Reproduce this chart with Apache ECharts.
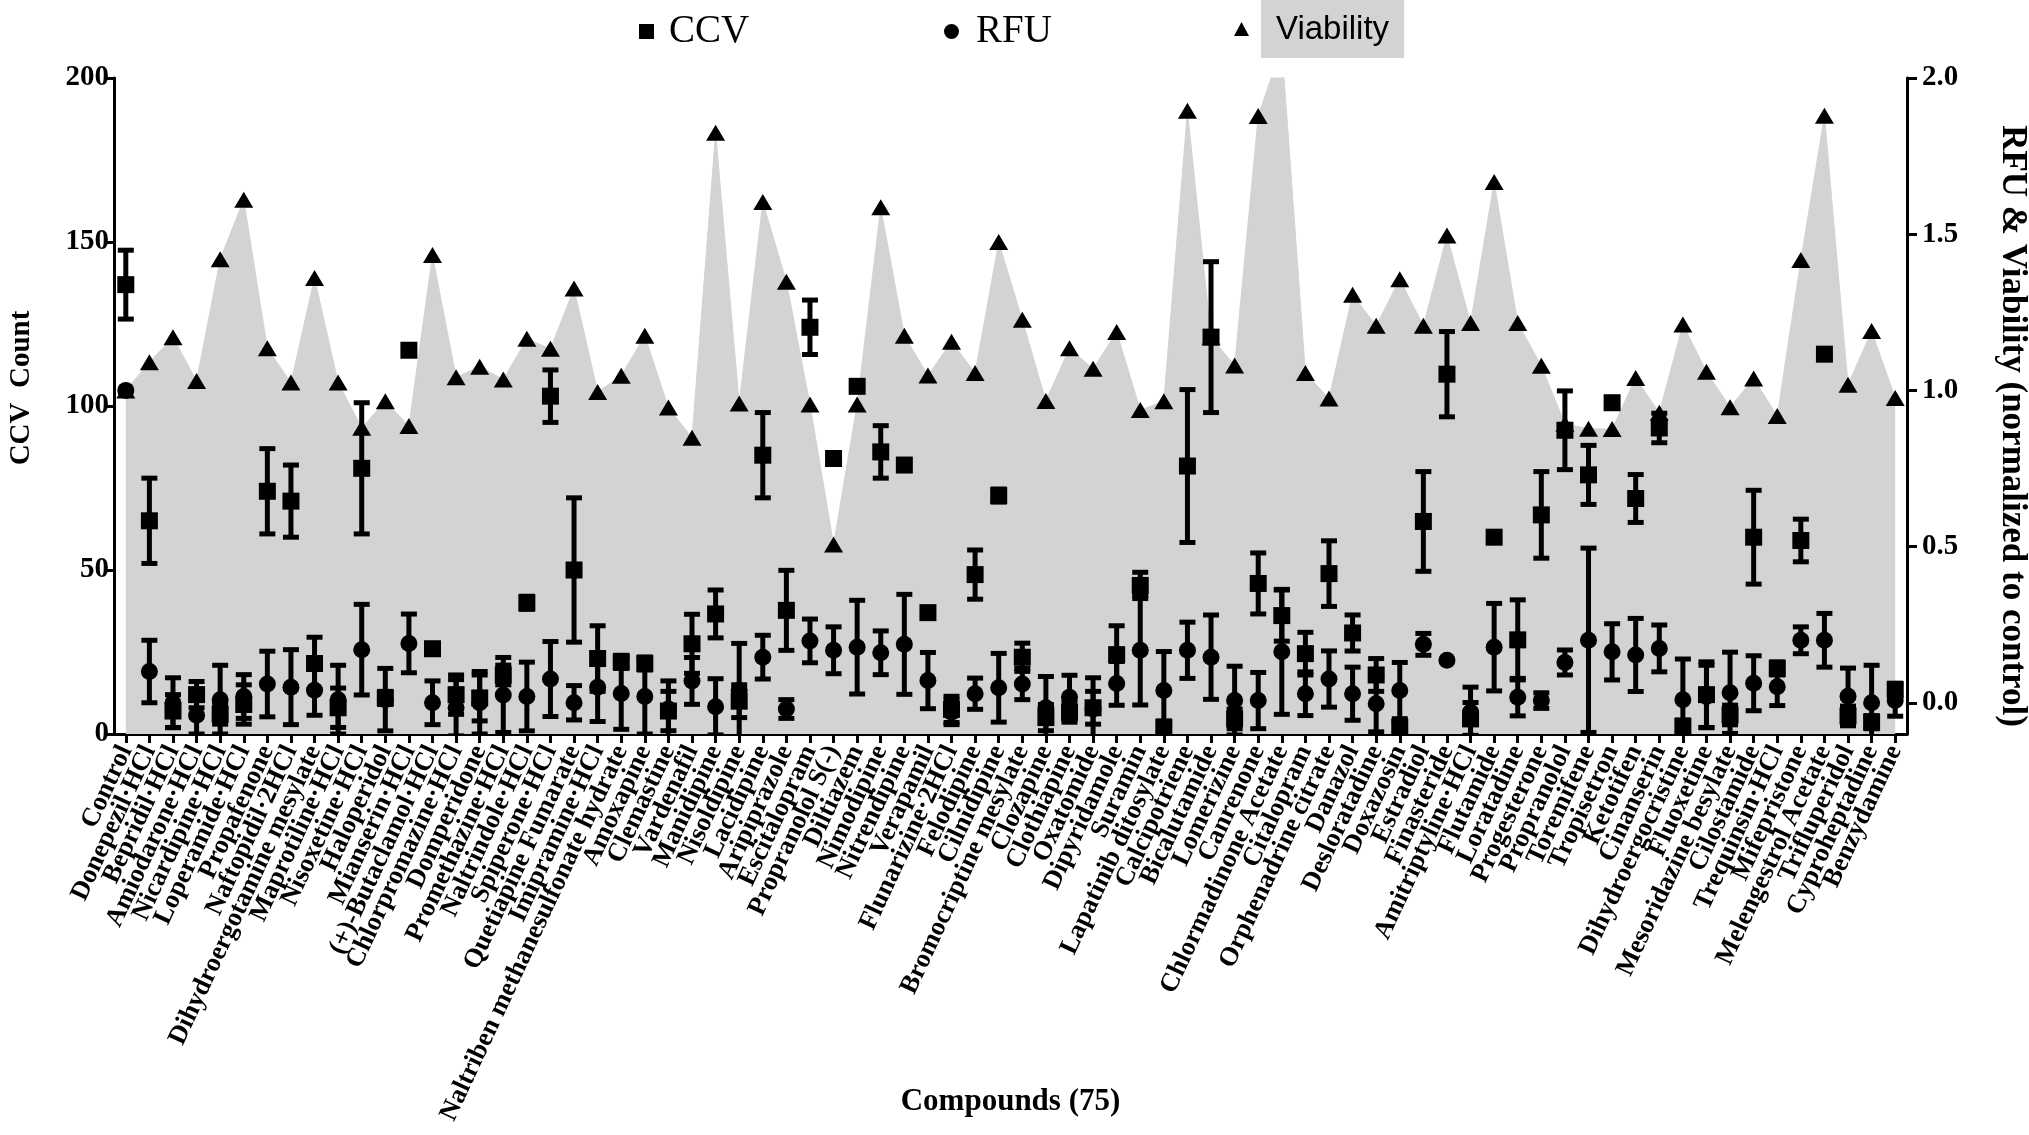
<!DOCTYPE html>
<html>
<head>
<meta charset="utf-8">
<script src="https://cdn.jsdelivr.net/npm/echarts@6/dist/echarts.min.js"></script>
<style>
html,body{margin:0;padding:0;background:#fff;}
#chart{width:2029px;height:1135px;}
</style>
</head>
<body>
<div id="chart"></div>
<script>
const categories = ["Control","Donepezil·HCl","Bepridil·HCl","Amiodarone·HCl","Nicardipine·HCl","Loperamide·HCl","Propafenone","Naftopidil·2HCl","Dihydroergotamine mesylate","Maprotiline·HCl","Nisoxetine·HCl","Haloperidol","Mianserin·HCl","(+)-Butaclamol·HCl","Chlorpromazine·HCl","Domperidone","Promethazine·HCl","Naltrindole·HCl","Spiperone·HCl","Quetiapine Fumarate","Imipramine·HCl","Naltriben methanesulfonate hydrate","Amoxapine","Clemastine","Vardenafil","Manidipine","Nisoldipine","Lacidipine","Aripiprazole","Escitalopram","Propranolol S(-)","Diltiazem","Nimodipine","Nitrendipine","Verapamil","Flunarizine·2HCl","Felodipine","Cilnidipine","Bromocriptine mesylate","Clozapine","Clothiapine","Oxatomide","Dipyridamole","Suramin","Lapatinib ditosylate","Calcipotriene","Bicalutamide","Lomerizine","Canrenone","Chlormadinone Acetate","Citalopram","Orphenadrine citrate","Danazol","Desloratadine","Doxazosin","Estradiol","Finasteride","Amitriptyline·HCl","Flutamide","Loratadine","Progesterone","Propranolol","Toremifene","Tropisetron","Ketotifen","Cinanserin","Dihydroergocristine","Fluoxetine","Mesoridazine besylate","Cilostamide","Trequinsin·HCl","Mifepristone","Melengestrol Acetate","Trifluperidol","Cyproheptadine","Benzydamine"];

const viability = [1.00,1.09,1.17,1.03,1.42,1.61,1.135,1.025,1.36,1.025,0.88,0.965,0.886,1.433,1.042,1.076,1.035,1.165,1.133,1.326,0.995,1.047,1.175,0.945,0.848,1.825,0.958,1.603,1.348,0.955,0.507,0.955,1.586,1.175,1.048,1.156,1.056,1.475,1.226,0.966,1.135,1.069,1.187,0.937,0.965,1.895,1.17,1.08,1.878,2.1,1.056,0.974,1.306,1.207,1.356,1.207,1.496,1.216,1.667,1.216,1.079,0.893,0.877,0.876,1.04,0.928,1.211,1.06,0.946,1.038,0.918,1.417,1.879,1.018,1.19,0.976];

const ccv = [137,65,7,12,6,9,74,71,21.5,8,81,11,117,26,12,11,18,40,103,50,23,22,21.5,7,27.5,36.6,10,85,37.7,124,84,106,86,82,37,7.5,48.6,72.7,23.4,5,6.6,8,24.2,45.3,2,81.7,121,4.6,45.9,36.1,24.5,48.9,30.8,18,2,64.8,109.7,4.6,60,28.7,66.8,92.6,79,101,71.8,93.3,2.3,12,5.8,60,20,59,115.8,5.5,3.6,13.5];
const ccvSD = [10.5,13,5,4,3,6,13,11,8,6,20,2,0,0,6,7,3,2,8,22,10,2,2,6,9,7.3,5,13,12.2,8.3,0,0,8,0,0,4,7.5,2,4.3,4,3,5,8.8,4,2,23.3,23,3,9.3,7.8,6.5,10,5.5,5,2,15.2,13,5,0,12.2,13.2,12,9,0,7.3,4.5,2,10,3,14.3,2,6.5,0,3,2,2];

const rfu = [1.0,0.10,0.0,-0.04,0.01,0.02,0.06,0.05,0.04,0.01,0.17,0.01,0.19,0.0,-0.016,0.0,0.025,0.02,0.076,0.0,0.05,0.03,0.02,-0.02,0.07,-0.013,0.04,0.146,-0.02,0.198,0.168,0.178,0.16,0.187,0.071,-0.03,0.029,0.048,0.06,-0.016,0.018,-0.02,0.062,0.168,0.039,0.168,0.146,0.007,0.007,0.163,0.029,0.076,0.029,-0.003,0.039,0.187,0.136,-0.03,0.178,0.018,0.007,0.129,0.2,0.163,0.153,0.174,0.01,0.02,0.032,0.0625,0.051,0.2,0.2,0.021,0.0,0.007];
const rfuSD = [0,0.10,0.08,0.06,0.11,0.07,0.105,0.12,0.08,0.11,0.145,0.1,0.094,0.07,0.09,0.1,0.12,0.11,0.12,0.055,0.11,0.115,0.12,0.09,0.075,0.09,0.15,0.07,0.03,0.07,0.075,0.15,0.07,0.16,0.09,0.04,0.05,0.11,0.05,0.1,0.07,0.1,0.07,0.175,0.125,0.09,0.135,0.11,0.09,0.2,0.07,0.09,0.085,0.09,0.09,0.035,0,0.08,0.14,0.06,0.025,0.04,0.295,0.09,0.117,0.075,0.13,0.1,0.13,0.088,0.06,0.043,0.086,0.09,0.12,0.05];

const leftTicks = [0,50,100,150,200];
const rightTicks = [0,0.5,1,1.5,2];

const SERIF = "'Liberation Serif','Times New Roman',serif";
const SANS = "'Liberation Sans',Arial,sans-serif";

function errRender(params, api) {
  const x = api.value(0), v = api.value(1), e = api.value(2);
  if (!e) return null;
  const top = api.coord([x, v + e]);
  const bot = api.coord([x, v - e]);
  const hw = 8;
  const style = {stroke: '#000', lineWidth: 5};
  return {type: 'group', children: [
    {type: 'line', shape: {x1: top[0], y1: top[1], x2: bot[0], y2: bot[1]}, style: style},
    {type: 'line', shape: {x1: top[0] - hw, y1: top[1], x2: top[0] + hw, y2: top[1]}, style: style},
    {type: 'line', shape: {x1: bot[0] - hw, y1: bot[1], x2: bot[0] + hw, y2: bot[1]}, style: style}
  ]};
}

const chart = echarts.init(document.getElementById('chart'), null, {renderer: 'canvas'});
const axisLineStyle = {color: '#000', width: 3};

chart.setOption({
  animation: false,
  backgroundColor: '#fff',
  grid: {left: 114, right: 122, top: 78, bottom: 401, containLabel: false, outerBoundsMode: 'none'},
  legend: [
    {data: [{name: 'CCV', icon: 'rect'}], left: 639, top: 12, padding: 0, itemWidth: 15, itemHeight: 15,
     textStyle: {fontFamily: SERIF, fontSize: 39, color: '#000', padding: [0, 0, 0, 10]}},
    {data: [{name: 'RFU', icon: 'circle'}], left: 944, top: 12, padding: 0, itemWidth: 15, itemHeight: 15,
     textStyle: {fontFamily: SERIF, fontSize: 39, color: '#000', padding: [0, 0, 0, 12]}},
    {data: [{name: 'Viability', icon: 'triangle'}], left: 1234, top: 0, padding: 0, itemWidth: 15, itemHeight: 14,
     formatter: function (name) { return '{g|}{b|' + name + '}'; },
     textStyle: {fontFamily: SANS, fontSize: 33, color: '#000',
       rich: {g: {width: 7}, b: {fontFamily: SANS, fontSize: 33, color: '#000', backgroundColor: '#d3d3d3', padding: [13, 15, 12, 15]}}}}
  ],
  xAxis: {
    type: 'category',
    data: categories,
    boundaryGap: true,
    axisLine: {lineStyle: axisLineStyle, onZero: false},
    axisTick: {show: true, alignWithLabel: true, interval: 0, length: 9, lineStyle: {color: '#000', width: 3}},
    axisLabel: {interval: 0, rotate: 65, fontFamily: SERIF, fontWeight: 'bold', fontSize: 26.5, color: '#000', margin: 13},
    name: 'Compounds (75)',
    nameLocation: 'middle',
    nameGap: 352,
    nameMoveOverlap: false,
    nameTextStyle: {fontFamily: SERIF, fontWeight: 'bold', fontSize: 31, color: '#000'},
    splitLine: {show: false}
  },
  yAxis: [
    {
      type: 'value', min: 0, max: 200, interval: 50, position: 'left',
      axisLine: {show: true, lineStyle: axisLineStyle},
      axisTick: {show: true, length: 10, lineStyle: {color: '#000', width: 3}, customValues: leftTicks},
      axisLabel: {fontFamily: SERIF, fontWeight: 'bold', fontSize: 29, color: '#000', margin: 5, customValues: leftTicks},
      splitLine: {show: false},
      name: 'CCV  Count', nameLocation: 'middle', nameGap: 78, nameMoveOverlap: false,
      nameTextStyle: {fontFamily: SERIF, fontWeight: 'bold', fontSize: 29, color: '#000', padding: [0, 0, 0, 36]}
    },
    {
      type: 'value', min: -0.1, max: 2.0, position: 'right',
      axisLine: {show: true, lineStyle: axisLineStyle},
      axisTick: {show: true, length: 10, lineStyle: {color: '#000', width: 3}, customValues: rightTicks},
      axisLabel: {fontFamily: SERIF, fontWeight: 'bold', fontSize: 29, color: '#000', margin: 15,
                  customValues: rightTicks, formatter: function (v) { return Number(v).toFixed(1); }},
      splitLine: {show: false},
      name: 'RFU & Viability (normalized to control)', nameLocation: 'middle', nameGap: 88, nameRotate: -90, nameMoveOverlap: false,
      nameTextStyle: {fontFamily: SERIF, fontWeight: 'bold', fontSize: 35, color: '#000', padding: [0, 0, 0, 40]}
    }
  ],
  series: [
    {
      name: 'Viability', type: 'line', yAxisIndex: 1, data: viability,
      symbol: 'triangle', symbolSize: [19, 16], showAllSymbol: true,
      itemStyle: {color: '#000', opacity: 1},
      lineStyle: {color: '#d3d3d3', width: 1},
      areaStyle: {color: '#d3d3d3', opacity: 1, origin: 'start'},
      z: 1
    },
    {
      type: 'custom', yAxisIndex: 0, clip: true, silent: true, z: 3,
      renderItem: errRender,
      encode: {x: 0, y: 1},
      data: ccv.map(function (v, i) { return [i, v, ccvSD[i]]; })
    },
    {
      type: 'custom', yAxisIndex: 1, clip: true, silent: true, z: 3,
      renderItem: errRender,
      encode: {x: 0, y: 1},
      data: rfu.map(function (v, i) { return [i, v, rfuSD[i]]; })
    },
    {
      name: 'CCV', type: 'scatter', yAxisIndex: 0, data: ccv,
      symbol: 'rect', symbolSize: [17, 17], itemStyle: {color: '#000', opacity: 1}, z: 4
    },
    {
      name: 'RFU', type: 'scatter', yAxisIndex: 1, data: rfu,
      symbol: 'circle', symbolSize: 17, itemStyle: {color: '#000', opacity: 1}, z: 4
    }
  ]
});
</script>
</body>
</html>
